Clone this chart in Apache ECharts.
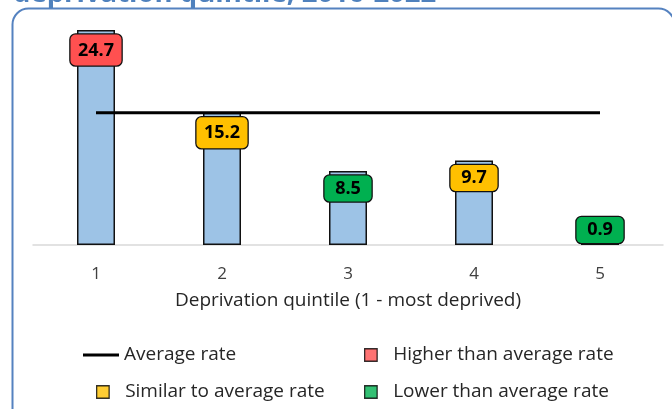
<!DOCTYPE html>
<html>
<head>
<meta charset="utf-8">
<script src="https://cdn.jsdelivr.net/npm/echarts@6/dist/echarts.min.js"></script>
<style>
  html, body { margin: 0; padding: 0; background: #ffffff; }
  #chart { width: 672px; height: 409px; }
</style>
</head>
<body>
<div id="chart"></div>
<script>
// Rates by deprivation quintile
const quintiles = ['1', '2', '3', '4', '5'];
const rates = [24.7, 15.2, 8.5, 9.7, 0.9];
const comparison = ['higher', 'similar', 'lower', 'similar', 'lower'];
const averageLine = [15.2, 15.2, 15.2, 15.2, 15.2];

const groupNames = {
  higher: 'Higher than average rate',
  similar: 'Similar to average rate',
  lower: 'Lower than average rate'
};
const groupColors = { higher: '#ff5050', similar: '#ffc000', lower: '#00b050' };

const FONT = '"Open Sans", "Noto Sans", sans-serif';
const chart = echarts.init(document.getElementById('chart'), null, { renderer: 'canvas' });

// value boxes sit just inside the bar top; short bars get the box resting on the axis
const barData = rates.map((v, i) => ({
  value: v,
  label: {
    backgroundColor: groupColors[comparison[i]],
    position: v < 3 ? 'insideBottom' : 'insideTop',
    distance: v < 3 ? 2 : 4.5,
    padding: v >= 10 ? [6, 6, 5, 6] : [3, 5, 3, 5],
    width: v >= 10 ? 39 : 37
  }
}));

// empty series that only feed the legend swatches
const keySeries = ['higher', 'similar', 'lower'].map(k => ({
  name: groupNames[k],
  type: 'scatter',
  data: [],
  itemStyle: { color: groupColors[k], borderColor: '#000', borderWidth: 1.3 }
}));

const legendText = { fontFamily: FONT, fontSize: 19, color: '#262626', lineHeight: 22 };

function squareLegend(name, left, top) {
  return {
    data: [{ name: name, icon: 'rect' }],
    left: left, top: top, padding: 0,
    itemWidth: 12.5, itemHeight: 12.5,
    selectedMode: false,
    itemStyle: { borderColor: '#000', borderWidth: 1.3 },
    textStyle: Object.assign({ padding: [0, 0, 0, 11] }, legendText)
  };
}

chart.setOption({
  animation: false,
  backgroundColor: '#ffffff',
  grid: { left: 33, right: 9, top: 27.4, bottom: 164, containLabel: false },
  xAxis: {
    type: 'category',
    data: quintiles,
    boundaryGap: true,
    axisLine: { show: true, lineStyle: { color: '#d9d9d9', width: 1.5 } },
    axisTick: { show: false },
    axisLabel: { margin: 21, fontFamily: FONT, fontSize: 17, color: '#404040' },
    name: 'Deprivation quintile (1 - most deprived)',
    nameLocation: 'middle',
    nameGap: 46,
    nameTextStyle: { fontFamily: FONT, fontSize: 19, color: '#262626' }
  },
  yAxis: {
    type: 'value', min: 0, max: 25, show: false,
    splitLine: { show: false }
  },
  legend: [
    {
      data: [{ name: 'Average rate', icon: 'rect' }],
      left: 83, top: 344, padding: 0,
      itemWidth: 36, itemHeight: 3,
      selectedMode: false,
      itemStyle: { color: '#000' },
      textStyle: legendText
    },
    squareLegend(groupNames.higher, 364, 344),
    squareLegend(groupNames.similar, 96, 381),
    squareLegend(groupNames.lower, 364, 381)
  ],
  graphic: [
    {
      type: 'rect',
      shape: { x: 12.5, y: 8.5, width: 662, height: 430, r: 16 },
      style: { fill: 'none', stroke: '#5582c0', lineWidth: 2 },
      silent: true
    },
    {
      type: 'text',
      x: 13, y: 8,
      style: {
        text: 'deprivation quintile, 2016-2022',
        fill: '#4f81bd',
        font: 'bold 27.5px ' + FONT,
        verticalAlign: 'bottom'
      },
      silent: true
    }
  ],
  series: [
    {
      name: 'Rate',
      type: 'bar',
      data: barData,
      barWidth: 38,
      itemStyle: { color: '#9dc3e6', borderColor: '#111', borderWidth: 1.5 },
      label: {
        show: true,
        formatter: p => p.value.toFixed(1),
        fontFamily: FONT,
        fontWeight: 'bold',
        fontSize: 18,
        lineHeight: 20,
        align: 'center',
        color: '#000',
        borderColor: '#111',
        borderWidth: 1.3,
        borderRadius: 5
      },
      z: 2
    },
    {
      name: 'Average rate',
      type: 'line',
      data: averageLine,
      symbol: 'none',
      lineStyle: { color: '#000', width: 3 },
      itemStyle: { color: '#000' },
      z: 3
    }
  ].concat(keySeries)
});
</script>
</body>
</html>
